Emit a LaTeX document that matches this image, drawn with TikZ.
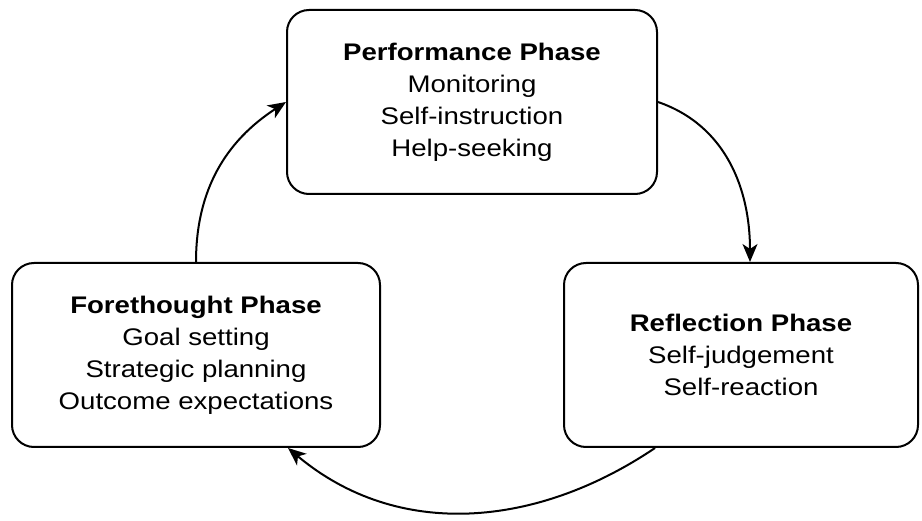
\documentclass[tikz,border=0pt]{standalone}
\usepackage{fontspec}
\setmainfont{Liberation Sans}[FakeStretch=1.15]
\usetikzlibrary{positioning,arrows.meta}

\begin{document}
\begin{tikzpicture}[x=1pt, y=1pt,
    phase/.style={draw, line width=2pt, rounded corners=22pt, align=center,
      inner sep=0pt, minimum height=184pt, font=\fontsize{24}{32}\selectfont},
    cyc/.style={line width=2pt, -{Stealth[length=18pt,width=15pt,inset=5pt]}}]
    \useasboundingbox (0,0) rectangle (922,520);
    \node[phase, minimum width=370pt] (perf) at (472,418)
      {\textbf{Performance Phase}\\Monitoring\\Self-instruction\\Help-seeking};
    \node[phase, minimum width=368pt] (fore) at (196,165)
      {\textbf{Forethought Phase}\\Goal setting\\Strategic planning\\Outcome expectations};
    \node[phase, minimum width=354pt] (refl) at (741,165)
      {\textbf{Reflection Phase}\\Self-judgement\\Self-reaction};
    \draw[cyc] (fore.north) to[out=90, in=213] (perf.west);
    \draw[cyc] (perf.east) to[out=-19, in=90] ([xshift=9pt]refl.north);
    \draw[cyc] ([xshift=-86pt]refl.south) to[out=-146, in=-40] ([xshift=92pt]fore.south); % back to start
\end{tikzpicture}
\end{document}
